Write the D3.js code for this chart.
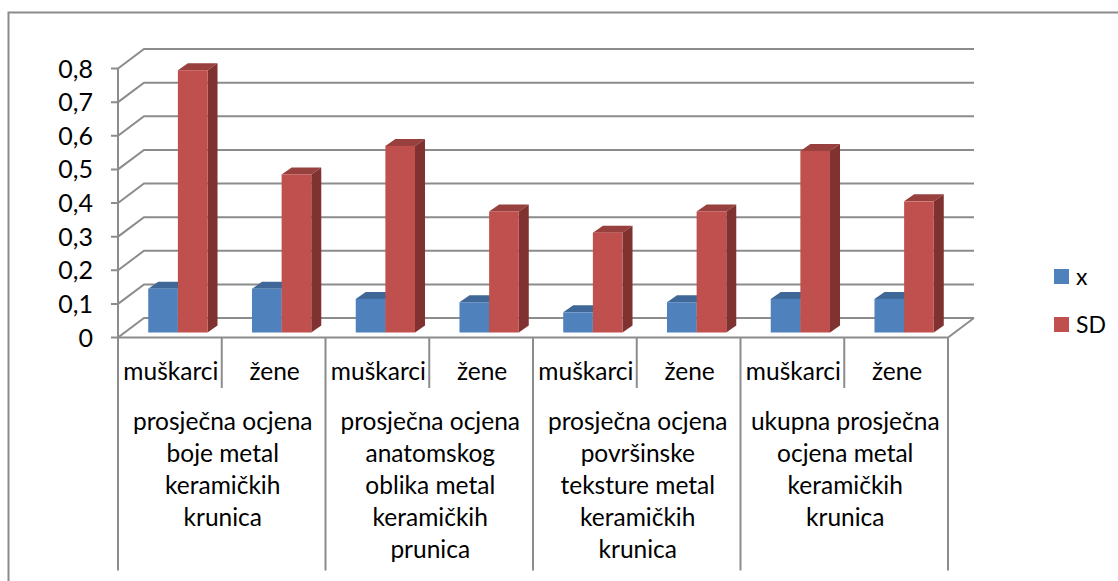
<!DOCTYPE html>
<html><head><meta charset="utf-8">
<script src="https://cdn.jsdelivr.net/npm/d3@7"></script>
<style>html,body{margin:0;padding:0;background:#fff}svg{display:block}text{font-family:Lato,Carlito,sans-serif;fill:#000}</style>
</head><body><div id="c"></div>
<script>
const subCategories = ["muškarci","žene","muškarci","žene","muškarci","žene","muškarci","žene"];
const groupLabels = [
  ["prosječna ocjena","boje metal","keramičkih","krunica"],
  ["prosječna ocjena","anatomskog","oblika metal","keramičkih","prunica"],
  ["prosječna ocjena","površinske","teksture metal","keramičkih","krunica"],
  ["ukupna prosječna","ocjena metal","keramičkih","krunica"]
];
const seriesNames = ["x","SD"];
const xValues = [0.13,0.13,0.10,0.09,0.06,0.09,0.10,0.10];
const sdValues = [0.78,0.47,0.555,0.36,0.297,0.36,0.54,0.39];
const yTicks = [0,0.1,0.2,0.3,0.4,0.5,0.6,0.7,0.8];
const yTickLabels = ["0","0,1","0,2","0,3","0,4","0,5","0,6","0,7","0,8"];
const colors = {x:{front:"#4f81bd",top:"#3f6797",side:"#3a5f8c"},SD:{front:"#c0504d",top:"#98403d",side:"#7f3230"}};

const W=1118,H=581, gridC="#8c8c8c";
const svg=d3.select("#c").append("svg").attr("width",W).attr("height",H);

const x=d3.scaleBand().domain(d3.range(8)).range([118,948]).paddingInner(0).paddingOuter(0);
const y=d3.scaleLinear().domain([0,0.8]).range([337.5,68.5]);
const depthX=26, depthY=-19.5;
const baseX=8, baseY=-5;
const bar=x.bandwidth()/3.5, gap=bar*0.75, dX=10, dY=-7;

// frame
const frame=svg.append("g").attr("stroke",gridC).attr("stroke-width",2).attr("fill","none");
frame.append("path").attr("d",`M8.5,${H} V12.5 H${W}`);

// grid
const grid=svg.append("g").attr("stroke",gridC).attr("stroke-width",2).attr("fill","none");
yTicks.forEach(t=>{
  const yy=y(t);
  grid.append("path").attr("d",`M111,${yy} H118 L${118+depthX},${yy+depthY} H${948+depthX}`);
});
grid.append("path").attr("d",`M118,${y(0)} H948 L${948+depthX},${y(0)+depthY}`);
grid.append("path").attr("d",`M118,${y(0.8)} V${y(0)}`);

// bars
const bars=svg.append("g");
const h0=y(0);
function drawBar(px,val,c){
  const yb=h0+baseY, yt=yb-(h0-y(val));
  const g=bars.append("g");
  g.append("path").attr("d",`M${px},${yt} L${px+dX},${yt+dY} H${px+bar+dX} L${px+bar},${yt} Z`).attr("fill",c.top);
  g.append("path").attr("d",`M${px+bar},${yt} L${px+bar+dX},${yt+dY} V${yb+dY} L${px+bar},${yb} Z`).attr("fill",c.side);
  g.append("rect").attr("x",px).attr("y",yt).attr("width",bar).attr("height",yb-yt).attr("fill",c.front);
}
d3.range(8).forEach(i=>{
  const px=x(i)+baseX+gap;
  drawBar(px,xValues[i],colors.x);
  drawBar(px+bar,sdValues[i],colors.SD);
});

// y labels
svg.append("g").selectAll("text").data(yTicks).join("text")
  .attr("x",93).attr("y",t=>y(t)+9).attr("text-anchor","end").attr("font-size",25).text((t,i)=>yTickLabels[i]);

// multi-level axis
const ax=svg.append("g").attr("stroke",gridC).attr("stroke-width",2).attr("fill","none");
d3.range(9).forEach(i=>{
  const xx=i==8?948:x(i);
  ax.append("path").attr("d",`M${xx},${y(0)} V${i%2==0?570.5:388}`);
});
svg.append("g").selectAll("text").data(subCategories).join("text")
  .attr("x",(d,i)=>x(i)+x.bandwidth()/2+1).attr("y",380).attr("text-anchor","middle").attr("font-size",24.5).text(d=>d);
groupLabels.forEach((lines,gi)=>{
  const cx=x(gi*2)+x.bandwidth();
  lines.forEach((l,li)=>{
    svg.append("text").attr("x",cx+1).attr("y",430+li*32).attr("text-anchor","middle").attr("font-size",24.5).text(l);
  });
});

// legend
seriesNames.forEach((s,i)=>{
  svg.append("rect").attr("x",1054).attr("y",269+i*48).attr("width",15).attr("height",15).attr("fill",colors[s].front);
  svg.append("text").attr("x",1076).attr("y",285+i*48).attr("font-size",23).text(s);
});
</script></body></html>
